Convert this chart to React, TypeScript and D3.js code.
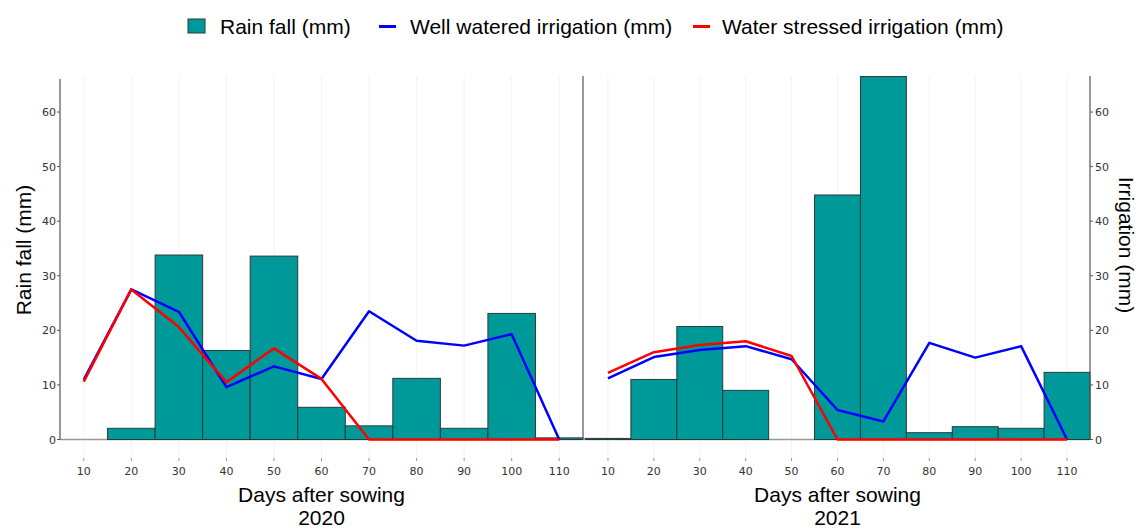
import React, { useRef, useEffect } from 'react';
import * as d3 from 'd3';

const days = [10, 20, 30, 40, 50, 60, 70, 80, 90, 100, 110];
const yTicks = [0, 10, 20, 30, 40, 50, 60];

const rain2020 = [0, 2.05, 33.8, 16.3, 33.6, 5.9, 2.5, 11.2, 2.05, 23.1, 0.3];
const well2020 = [11, 27.5, 23.4, 9.6, 13.4, 11.1, 23.5, 18.1, 17.2, 19.3, 0];
const stress2020 = [10.6, 27.5, 20.6, 10.5, 16.7, 11.1, 0, 0, 0, 0, 0];

const rain2021 = [0.2, 11, 20.7, 9, 0, 44.8, 66.5, 1.25, 2.35, 2.05, 12.3];
const well2021 = [11.2, 15.1, 16.4, 17.1, 14.7, 5.4, 3.3, 17.7, 15, 17.1, 0];
const stress2021 = [12.2, 16, 17.3, 18, 15.3, 0, 0, 0, 0, 0, 0];

const TEAL = '#009999';
const TITLE_FONT = '"Liberation Sans", Arial, sans-serif';
const TICK_FONT = '"DejaVu Sans", Verdana, sans-serif';

const App = () => {
  const ref = useRef<SVGSVGElement>(null);

  useEffect(() => {
    if (!ref.current) return;
    const svg = d3.select(ref.current);
    svg.selectAll('*').remove();

    const width = 1138;
    const height = 529;
    svg.attr('width', width).attr('height', height);

    const yScale = d3.scaleLinear().domain([0, 66.6]).range([439.5, 76]);

    const panels = [
      { year: '2020', rain: rain2020, well: well2020, stress: stress2020, range: [60, 583] },
      { year: '2021', rain: rain2021, well: well2021, stress: stress2021, range: [585, 1090] },
    ];

    panels.forEach((p) => {
      const xScale = d3.scaleLinear().domain([5, 115]).range(p.range);
      const g = svg.append('g');

      // faint grid lines
      g.selectAll('line.grid')
        .data(days)
        .enter()
        .append('line')
        .attr('x1', (d) => xScale(d))
        .attr('x2', (d) => xScale(d))
        .attr('y1', 76)
        .attr('y2', 459)
        .attr('stroke', '#f3f3f3')
        .attr('stroke-width', 1);

      // small tick marks
      g.selectAll('line.tick')
        .data(days)
        .enter()
        .append('line')
        .attr('x1', (d) => xScale(d))
        .attr('x2', (d) => xScale(d))
        .attr('y1', 458)
        .attr('y2', 461)
        .attr('stroke', '#999')
        .attr('stroke-width', 1);

      // baseline
      g.append('line')
        .attr('x1', p.range[0])
        .attr('x2', p.range[1])
        .attr('y1', yScale(0))
        .attr('y2', yScale(0))
        .attr('stroke', '#999')
        .attr('stroke-width', 1.5);

      // bars
      g.selectAll('rect')
        .data(days.map((d, i) => ({ d, v: p.rain[i] })).filter((e) => e.v > 0))
        .enter()
        .append('rect')
        .attr('x', (e) => xScale(e.d - 5))
        .attr('width', (e) => xScale(e.d + 5) - xScale(e.d - 5))
        .attr('y', (e) => yScale(e.v))
        .attr('height', (e) => yScale(0) - yScale(e.v))
        .attr('fill', TEAL)
        .attr('stroke', '#2a3a3a')
        .attr('stroke-width', 1);

      // lines
      const line = (vals: number[]) =>
        d3
          .line<number>()
          .x((_, i) => xScale(days[i]))
          .y((v) => yScale(v))(vals);

      g.append('path')
        .attr('d', line(p.well))
        .attr('fill', 'none')
        .attr('stroke', '#0000ff')
        .attr('stroke-width', 2.5)
        .attr('stroke-linejoin', 'round');

      g.append('path')
        .attr('d', line(p.stress))
        .attr('fill', 'none')
        .attr('stroke', '#ff0000')
        .attr('stroke-width', 2.5)
        .attr('stroke-linejoin', 'round');

      // x tick labels
      g.selectAll('text.xt')
        .data(days)
        .enter()
        .append('text')
        .text((d) => d)
        .attr('x', (d) => xScale(d))
        .attr('y', 475)
        .attr('text-anchor', 'middle')
        .attr('font-size', '11px')
        .attr('fill', '#333')
        .style('font-family', TICK_FONT);

      const cx = (p.range[0] + p.range[1]) / 2;
      g.append('text')
        .text('Days after sowing')
        .attr('x', cx)
        .attr('y', 502)
        .attr('text-anchor', 'middle')
        .attr('font-size', '21px')
        .attr('fill', '#000')
        .style('font-family', TITLE_FONT);
      g.append('text')
        .text(p.year)
        .attr('x', cx)
        .attr('y', 525)
        .attr('text-anchor', 'middle')
        .attr('font-size', '21px')
        .attr('fill', '#000')
        .style('font-family', TITLE_FONT);
    });

    // vertical axes
    const axisLine = (x: number, y1: number) =>
      svg
        .append('line')
        .attr('x1', x)
        .attr('x2', x)
        .attr('y1', y1)
        .attr('y2', yScale(0))
        .attr('stroke', '#555')
        .attr('stroke-width', 1.2);
    axisLine(60, 79);
    axisLine(583, 76);
    axisLine(1090, 76);

    // left y ticks
    const yl = svg.append('g');
    yl.selectAll('line')
      .data(yTicks)
      .enter()
      .append('line')
      .attr('x1', 57)
      .attr('x2', 60)
      .attr('y1', (d) => yScale(d))
      .attr('y2', (d) => yScale(d))
      .attr('stroke', '#555');
    yl.selectAll('text')
      .data(yTicks)
      .enter()
      .append('text')
      .text((d) => d)
      .attr('x', 56)
      .attr('y', (d) => yScale(d) + 4)
      .attr('text-anchor', 'end')
      .attr('font-size', '11px')
      .attr('fill', '#333')
      .style('font-family', TICK_FONT);

    // right y ticks
    const yr = svg.append('g');
    yr.selectAll('line')
      .data(yTicks)
      .enter()
      .append('line')
      .attr('x1', 1090)
      .attr('x2', 1093)
      .attr('y1', (d) => yScale(d))
      .attr('y2', (d) => yScale(d))
      .attr('stroke', '#555');
    yr.selectAll('text')
      .data(yTicks)
      .enter()
      .append('text')
      .text((d) => d)
      .attr('x', 1095)
      .attr('y', (d) => yScale(d) + 4)
      .attr('text-anchor', 'start')
      .attr('font-size', '11px')
      .attr('fill', '#333')
      .style('font-family', TICK_FONT);

    // axis titles
    svg
      .append('text')
      .text('Rain fall (mm)')
      .attr('transform', 'translate(31,250) rotate(-90)')
      .attr('text-anchor', 'middle')
      .attr('font-size', '21px')
      .style('font-family', TITLE_FONT);
    svg
      .append('text')
      .text('Irrigation (mm)')
      .attr('transform', 'translate(1119,245) rotate(90)')
      .attr('text-anchor', 'middle')
      .attr('font-size', '21px')
      .style('font-family', TITLE_FONT);

    // legend
    const lg = svg.append('g');
    lg.append('rect')
      .attr('x', 188)
      .attr('y', 19)
      .attr('width', 17)
      .attr('height', 14)
      .attr('fill', TEAL)
      .attr('stroke', '#2a3a3a')
      .attr('stroke-width', 1);
    lg.append('line')
      .attr('x1', 379)
      .attr('x2', 396)
      .attr('y1', 26.5)
      .attr('y2', 26.5)
      .attr('stroke', '#0000ff')
      .attr('stroke-width', 3);
    lg.append('line')
      .attr('x1', 693)
      .attr('x2', 710)
      .attr('y1', 26.5)
      .attr('y2', 26.5)
      .attr('stroke', '#ff0000')
      .attr('stroke-width', 3);
    const legendText = [
      { label: 'Rain fall (mm)', x: 220 },
      { label: 'Well watered irrigation (mm)', x: 410 },
      { label: 'Water stressed irrigation (mm)', x: 722 },
    ];
    lg.selectAll('text')
      .data(legendText)
      .enter()
      .append('text')
      .text((d) => d.label)
      .attr('x', (d) => d.x)
      .attr('y', 33.5)
      .attr('font-size', '21px')
      .attr('fill', '#000')
      .style('font-family', TITLE_FONT);
  }, []);

  return <svg ref={ref} style={{ position: 'absolute', left: 0, top: 0 }} />;
};

export default App;
